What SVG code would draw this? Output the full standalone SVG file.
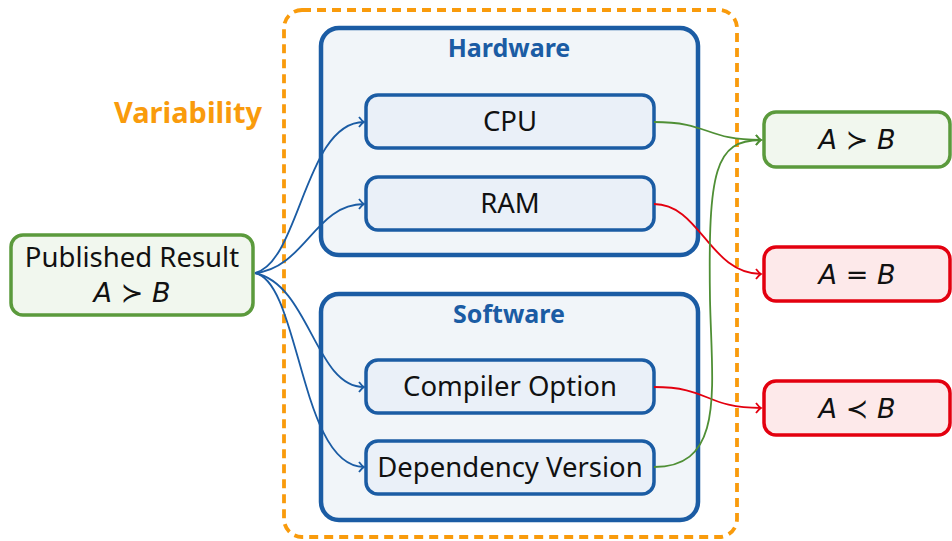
<svg xmlns="http://www.w3.org/2000/svg" width="952" height="541" viewBox="0 0 952 541">
<style>
.t{font-family:"Noto Sans","Open Sans","DejaVu Sans",sans-serif;font-size:27.5px;fill:#111;text-anchor:middle}
.ti{font-family:"Noto Sans","Open Sans",sans-serif;font-weight:bold;font-size:25px;fill:#1b5ca4;text-anchor:middle}
.m{font-family:"DejaVu Sans","Liberation Sans",sans-serif;font-size:27px;fill:#111;text-anchor:middle}
.m .i{font-style:italic}
.grp{fill:#f1f5f9;stroke:#1b5ca4;stroke-width:4.5}
.box{fill:#eaf0f8;stroke:#1b5ca4;stroke-width:3.5}
.gb{fill:#f1f7ee;stroke:#5b9a3c;stroke-width:3.5}
.rb{fill:#fde9ea;stroke:#e3000f;stroke-width:3.5}
.c{fill:none;stroke-width:1.8}
.cb{stroke:#1b5ca4}.cg{stroke:#4f8f35}.cr{stroke:#e3000f}
</style>
<defs>
<marker id="ab" viewBox="-6 -6 8 12" markerWidth="8" markerHeight="12" refX="0" refY="0" orient="auto" markerUnits="userSpaceOnUse"><path d="M-5,-5 Q-2,-1 0,0 Q-2,1 -5,5" fill="none" stroke="#1b5ca4" stroke-width="1.8"/></marker>
<marker id="ag" viewBox="-6 -6 8 12" markerWidth="8" markerHeight="12" refX="0" refY="0" orient="auto" markerUnits="userSpaceOnUse"><path d="M-5,-5 Q-2,-1 0,0 Q-2,1 -5,5" fill="none" stroke="#4f8f35" stroke-width="1.8"/></marker>
<marker id="ar" viewBox="-6 -6 8 12" markerWidth="8" markerHeight="12" refX="0" refY="0" orient="auto" markerUnits="userSpaceOnUse"><path d="M-5,-5 Q-2,-1 0,0 Q-2,1 -5,5" fill="none" stroke="#e3000f" stroke-width="1.8"/></marker>
</defs>
<rect width="952" height="541" fill="#fff"/>
<g id="variability">
<rect x="284" y="10" width="453" height="527" rx="18" fill="none" stroke="#f99b0c" stroke-width="3.8" stroke-dasharray="9 6"/>
<text x="188" y="123" font-family="'Noto Sans','Open Sans',sans-serif" font-weight="bold" font-size="29" fill="#f99b0c" text-anchor="middle">Variability</text>
</g>
<g id="hardware">
<rect class="grp" x="321" y="28" width="377" height="227" rx="18"/>
<text class="ti" x="509" y="57">Hardware</text>
</g>
<g id="software">
<rect class="grp" x="321" y="294" width="377" height="226" rx="18"/>
<text class="ti" x="509" y="323">Software</text>
</g>
<g id="cpu"><rect class="box" x="366" y="95" width="288" height="53" rx="12"/><text class="t" x="510" y="131">CPU</text></g>
<g id="ram"><rect class="box" x="366" y="177" width="288" height="53" rx="12"/><text class="t" x="510" y="213">RAM</text></g>
<g id="compiler"><rect class="box" x="366" y="360" width="288" height="53" rx="12"/><text class="t" x="510" y="396">Compiler Option</text></g>
<g id="dependency"><rect class="box" x="366" y="441" width="288" height="53" rx="12"/><text class="t" x="510" y="477">Dependency Version</text></g>
<g id="published">
<rect class="gb" x="11" y="235" width="242" height="80" rx="12"/>
<text class="t" x="132" y="267">Published Result</text>
<text class="m" x="132" y="302"><tspan class="i">A</tspan> ≻ <tspan class="i">B</tspan></text>
</g>
<g id="res-gt"><rect class="gb" x="764" y="112" width="186" height="55" rx="12"/><text class="m" x="857" y="149"><tspan class="i">A</tspan> ≻ <tspan class="i">B</tspan></text></g>
<g id="res-eq"><rect class="rb" x="764" y="247" width="186" height="54" rx="12"/><text class="m" x="857" y="284"><tspan class="i">A</tspan> = <tspan class="i">B</tspan></text></g>
<g id="res-lt"><rect class="rb" x="764" y="381" width="186" height="54" rx="12"/><text class="m" x="857" y="418"><tspan class="i">A</tspan> ≺ <tspan class="i">B</tspan></text></g>
<g id="connectors">
<path class="c cb" marker-end="url(#ab)" d="M255,273 C300,262 305,122 364,122"/>
<path class="c cb" marker-end="url(#ab)" d="M255,273 C305,268 315,204 364,204"/>
<path class="c cb" marker-end="url(#ab)" d="M255,273 C310,285 315,387 364,387"/>
<path class="c cb" marker-end="url(#ab)" d="M255,273 C300,282 300,467 364,467"/>
<path class="c cg" marker-end="url(#ag)" d="M654,122 C710,122 705,140 761,140"/>
<path class="c cr" marker-end="url(#ar)" d="M654,204 C700,204 710,274 761,274"/>
<path class="c cr" marker-end="url(#ar)" d="M654,387 C710,387 705,408 761,408"/>
<path class="c cg" marker-end="url(#ag)" d="M654,467 C725,467 712,390 710,300 C708,170 715,140 761,140"/>
</g>
</svg>
